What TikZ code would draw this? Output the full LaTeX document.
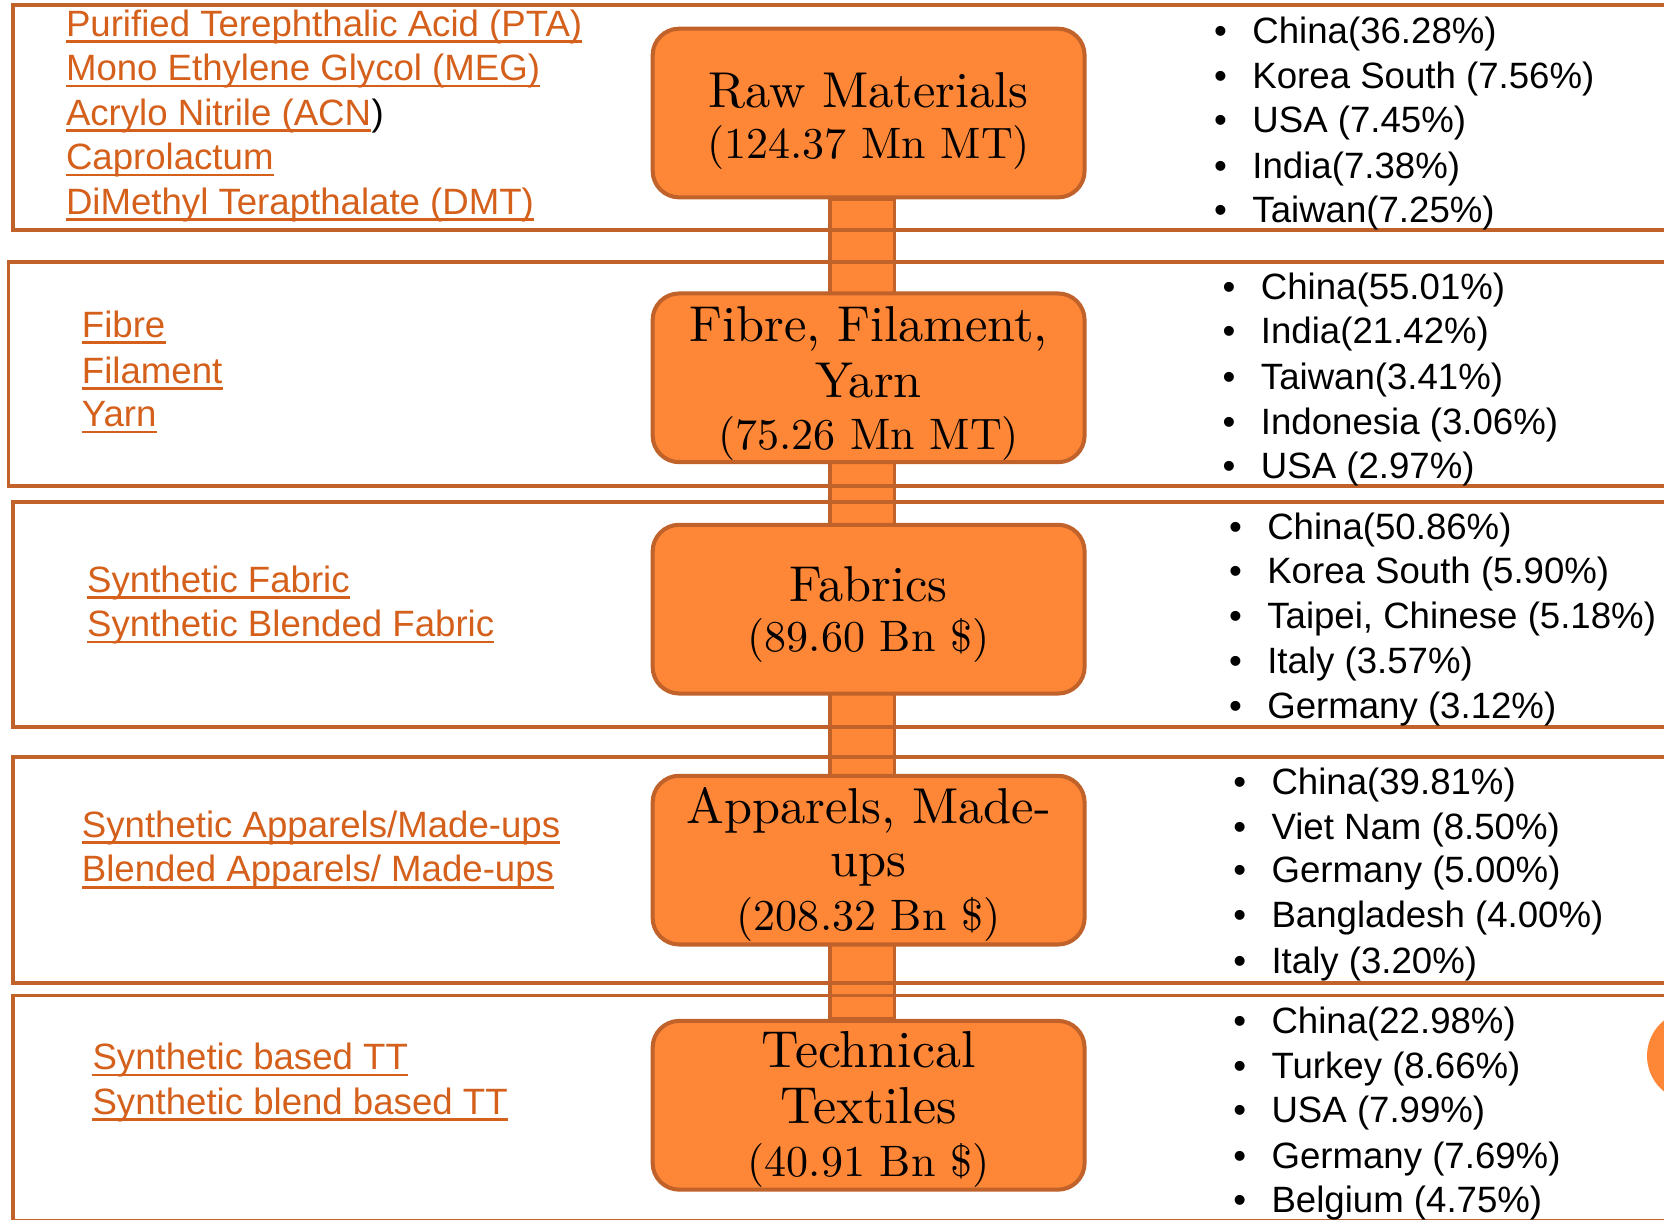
\documentclass[tikz,border=0pt]{standalone}
\usepackage{fontspec}
\newfontfamily\boxfont{lmroman10-regular}[Extension=.otf]
\newfontfamily\sansf{Liberation Sans}
\definecolor{bord}{RGB}{192,98,42}
\definecolor{boxfill}{RGB}{253,134,55}
\definecolor{linkc}{RGB}{212,96,28}
\pgfdeclarelayer{bglayer}
\pgfdeclarelayer{midlayer}
\pgfsetlayers{bglayer,midlayer,main}
\tikzset{
  band/.style={draw=bord, line width=3.5},
  stagebox/.style={draw=bord, fill=boxfill, line width=3.8, rounded corners=25,
    minimum width=407, minimum height=159, inner sep=0},
  bar/.style={draw=bord, fill=boxfill, line width=3.5},
  bigline/.style={anchor=base, inner sep=0, text=black, font=\boxfont\fontsize{47.5}{48}\selectfont},
  smallline/.style={anchor=base, inner sep=0, text=black, font=\boxfont\fontsize{41.5}{48}\selectfont},
  ltext/.style={anchor=base west, inner sep=0, text=linkc, font=\sansf\fontsize{34.5}{41}\selectfont},
  rtext/.style={anchor=base west, inner sep=0, text=black, font=\sansf\fontsize{34.5}{41}\selectfont},
  ul/.style={draw=linkc, line width=2.6},
}
\newcommand\bul{\makebox[0pt][r]{\textbullet\hspace{24pt}}}
\begin{document}
\begin{tikzpicture}[x=1pt,y=-1pt]
\useasboundingbox (0,0) rectangle (1568,1149);
\clip (0,0) rectangle (1568,1149);

% stage boxes
\node[stagebox] (b1) at (818.5,106.5) {};
\node[stagebox] (b2) at (818.5,356) {};
\node[stagebox] (b3) at (818.5,574) {};
\node[stagebox] (b4) at (818.5,810.5) {};
\node[stagebox] (b5) at (818.5,1041.5) {};

\node[bigline]   (t1a) at (818.5,101) {Raw Materials};
\node[smallline] (t1b) at (818.5,149) {(124.37 Mn MT)};
\node[bigline]   (t2a) at (818.5,322) {Fibre, Filament,};
\node[bigline]   (t2b) at (818.5,375) {Yarn};
\node[smallline] (t2c) at (818.5,424) {(75.26 Mn MT)};
\node[bigline]   (t3a) at (818.5,567) {Fabrics};
\node[smallline] (t3b) at (818.5,614) {(89.60 Bn \$)};
\node[bigline]   (t4a) at (818.5,776) {Apparels, Made-};
\node[bigline]   (t4b) at (818.5,826) {ups};
\node[smallline] (t4c) at (818.5,877) {(208.32 Bn \$)};
\node[bigline, font=\boxfont\fontsize{49}{48}\selectfont] (t5a) at (818.5,1006) {Technical};
\node[bigline, font=\boxfont\fontsize{49}{48}\selectfont] (t5b) at (818.5,1059) {Textiles};
\node[smallline] (t5c) at (818.5,1109) {(40.91 Bn \$)};

% connecting bar
\begin{pgfonlayer}{bglayer}
\fill[white] (0,0) rectangle (1568,1149);
\draw[bar] ([xshift=-36.5pt]b1.south) rectangle ([xshift=24.5pt]b5.north);
\end{pgfonlayer}

% bands
\begin{pgfonlayer}{midlayer}
\draw[band] (12,5) rectangle (1600,217);
\draw[band] (8,247) rectangle (1600,458);
\draw[band] (12,473) rectangle (1600,685);
\draw[band] (12,713) rectangle (1600,926);
\draw[band] (12,938) rectangle (1600,1150);
\end{pgfonlayer}

\node[circle, fill=boxfill, inner sep=0, minimum size=86] (dot) at (1595,995) {};

% left texts
\foreach \t/\x/\y [count=\i] in {
  {Purified Terephthalic Acid (PTA)}/62/34,
  {Mono Ethylene Glycol (MEG)}/62/76,
  {Acrylo Nitrile (ACN}/62/118,
  {Caprolactum}/62/160,
  {DiMethyl Terapthalate (DMT)}/62/202,
  {Fibre}/77/318,
  {Filament}/77/361,
  {Yarn}/77/402,
  {Synthetic Fabric}/82/558,
  {Synthetic Blended Fabric}/82/600,
  {Synthetic Apparels/Made-ups}/77/789,
  {Blended Apparels/ Made-ups}/77/831,
  {Synthetic based TT}/87/1008,
  {Synthetic blend based TT}/87/1050}{
  \node[ltext] (l\i) at (\x,\y) {\t};
  \draw[ul] ([yshift=-5pt]l\i.base west) -- ([yshift=-5pt]l\i.base east);
}
\node[rtext, anchor=base west] (l3p) at (l3.base east) {)};

% right lists
\foreach \t/\x/\y [count=\i] in {
  {China(36.28\%)}/1180/41,
  {Korea South (7.56\%)}/1180/83,
  {USA (7.45\%)}/1180/125,
  {India(7.38\%)}/1180/168,
  {Taiwan(7.25\%)}/1180/210,
  {China(55.01\%)}/1188/282,
  {India(21.42\%)}/1188/324,
  {Taiwan(3.41\%)}/1188/367,
  {Indonesia (3.06\%)}/1188/409,
  {USA (2.97\%)}/1188/451,
  {China(50.86\%)}/1194/508,
  {Korea South (5.90\%)}/1194/550,
  {Taipei, Chinese (5.18\%)}/1194/592,
  {Italy (3.57\%)}/1194/635,
  {Germany (3.12\%)}/1194/677,
  {China(39.81\%)}/1198/749,
  {Viet Nam (8.50\%)}/1198/791,
  {Germany (5.00\%)}/1198/832,
  {Bangladesh (4.00\%)}/1198/874,
  {Italy (3.20\%)}/1198/917,
  {China(22.98\%)}/1198/974,
  {Turkey (8.66\%)}/1198/1016,
  {USA (7.99\%)}/1198/1058,
  {Germany (7.69\%)}/1198/1101,
  {Belgium (4.75\%)}/1198/1143}{
  \node[rtext] (r\i) at (\x,\y) {\bul\t};
}
\end{tikzpicture}
\end{document}
